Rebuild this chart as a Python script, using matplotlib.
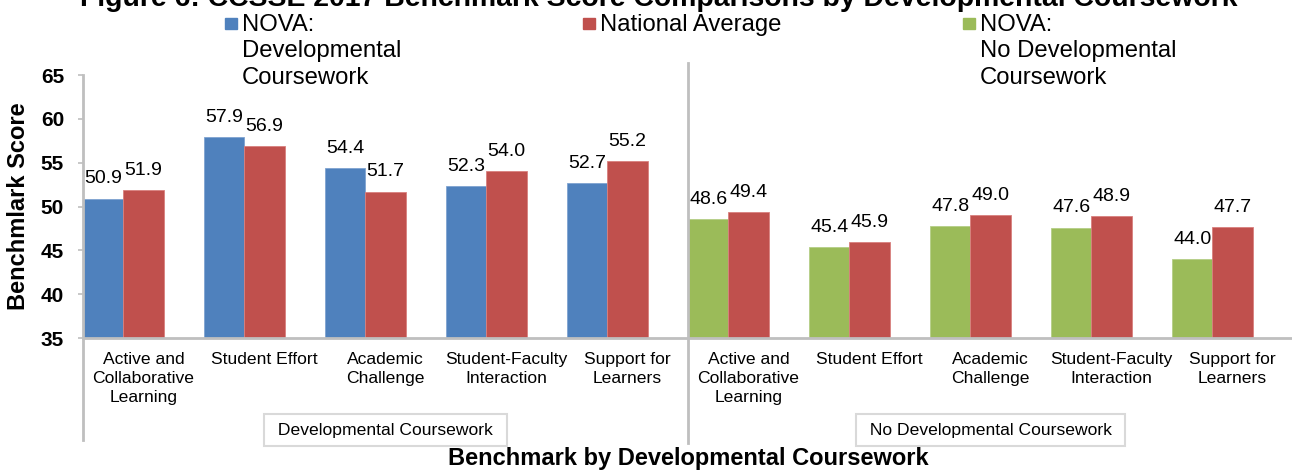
import numpy as np
import matplotlib.pyplot as plt
from matplotlib.patches import Rectangle

plt.rcParams['font.family'] = ['Liberation Sans', 'DejaVu Sans']

# benchmark names (same five for both coursework groups)
benchmarks = ['Active and\nCollaborative\nLearning', 'Student Effort', 'Academic\nChallenge',
              'Student-Faculty\nInteraction', 'Support for\nLearners']
groups = ['Developmental Coursework', 'No Developmental Coursework']

# scores
nova_dev = [50.9, 57.9, 54.4, 52.3, 52.7]
national_dev = [51.9, 56.9, 51.7, 54.0, 55.2]
nova_nodev = [48.6, 45.4, 47.8, 47.6, 44.0]
national_nodev = [49.4, 45.9, 49.0, 48.9, 47.7]

series_names = ['NOVA:\nDevelopmental\nCoursework', 'National Average',
                'NOVA:\nNo Developmental\nCoursework']

BLUE = '#4F81BD'
RED = '#C0504D'
GREEN = '#9BBB59'
GRID = '#BFBFBF'

W, H = 1292, 472
fig = plt.figure(figsize=(W / 100, H / 100), dpi=100)
ax = fig.add_axes([83 / W, 1 - 338 / H, 1210 / W, 263 / H])

n = len(benchmarks)
x_dev = np.arange(n)
x_nodev = np.arange(n) + n
w = 1 / 3

bars = []
bars.append(ax.bar(x_dev - w, nova_dev, w, color=BLUE, edgecolor='#7FA3D0', linewidth=0.6))
bars.append(ax.bar(x_dev, national_dev, w, color=RED, edgecolor='#D9807E', linewidth=0.6))
bars.append(ax.bar(x_nodev - w, nova_nodev, w, color=GREEN, edgecolor='#B5CE86', linewidth=0.6))
bars.append(ax.bar(x_nodev, national_nodev, w, color=RED, edgecolor='#D9807E', linewidth=0.6))
for b in bars:
    ax.bar_label(b, fmt='%.1f', padding=8, fontsize=14, color='black')

ax.set_ylim(35, 65)
ax.set_xlim(-0.5, 2 * n - 0.5)
ax.set_yticks(range(35, 70, 5))
ax.tick_params(axis='y', direction='out', length=3.6, width=1.2, color=GRID, pad=10,
               labelsize=15)
for t in ax.get_yticklabels():
    t.set_fontweight('bold')
ax.set_xticks(np.concatenate([x_dev, x_nodev]))
ax.set_xticklabels(benchmarks * 2, fontsize=12.6, linespacing=1.35)
ax.tick_params(axis='x', length=0, pad=10)

for s in ['top', 'right', 'left']:
    ax.spines[s].set_visible(False)
ax.spines['bottom'].set_color(GRID)
ax.spines['bottom'].set_linewidth(2)

# left axis line and the group separator run down past the category labels
ax.plot([-0.5, -0.5], [-0.388, 1.0], transform=ax.get_xaxis_transform(), color=GRID,
        lw=2, clip_on=False)
ax.plot([n - 0.5, n - 0.5], [-0.40, 1.046], transform=ax.get_xaxis_transform(), color=GRID,
        lw=2, clip_on=False)

# group labels in boxes
for i, g in enumerate(groups):
    ax.text(i * n + 2, -0.35, ' ' + g + ' ', transform=ax.get_xaxis_transform(),
            ha='center', va='center', fontsize=12.6,
            bbox=dict(boxstyle='square,pad=0.5', fc='white', ec='#D9D9D9', lw=1.5))

ax.set_ylabel('Benchmlark Score', fontsize=17, fontweight='bold', labelpad=8)
fig.text(688 / W, 1 - 458 / H, 'Benchmark by Developmental Coursework', ha='center',
         va='center', fontsize=17, fontweight='bold')

fig.text(659 / W, 1 - 6 / H,
         'Figure 6: CCSSE 2017 Benchmark Score Comparisons by Developmental Coursework',
         ha='center', va='baseline', fontsize=20.4, fontweight='bold')

# legend keys along the top
key_x = [225, 583, 963]
for name, col, kx in zip(series_names, [BLUE, RED, GREEN], key_x):
    fig.patches.append(Rectangle((kx / W, 1 - 29 / H), 12 / W, 11 / H, color=col,
                                 transform=fig.transFigure))
    fig.text((kx + 17) / W, 1 - 14 / H, name, ha='left', va='top', fontsize=17.2,
             linespacing=1.26)

fig.savefig('out.png', dpi=100)
